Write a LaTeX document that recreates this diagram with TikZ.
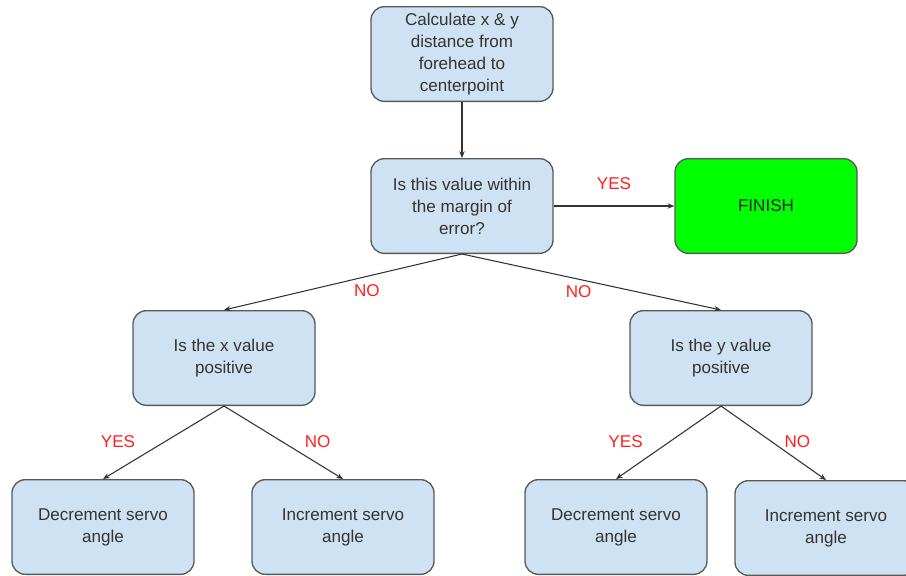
\documentclass[tikz,border=0pt]{standalone}
\usepackage{fontspec}
\setmainfont{Liberation Sans}
\usetikzlibrary{arrows.meta}
\definecolor{boxblue}{HTML}{CFE2F3}
\definecolor{boxedge}{HTML}{595959}
\definecolor{txtgray}{HTML}{333333}
\definecolor{finishgreen}{HTML}{00FF00}
\definecolor{lblred}{HTML}{FF2020}

\tikzset{
  flowbox/.style={draw=boxedge, fill=boxblue, line width=1pt, rounded corners=10pt,
    minimum width=136.5pt, minimum height=71pt, align=center, text=txtgray,
    font=\fontsize{12.8}{16.5}\selectfont},
  donebox/.style={flowbox, fill=finishgreen, text=black!85},
  link/.style={-{Stealth[length=5pt, width=4pt]}, draw=txtgray, line width=0.8pt},
  lbl/.style={text=lblred, font=\fontsize{12.8}{15}\selectfont, inner sep=1pt}
}

\begin{document}
\begin{tikzpicture}[x=0.75pt, y=-0.75pt]

% Page frame
\useasboundingbox (0,0) rectangle (906,575);
\fill[white] (0,0) rectangle (906,575);
\clip (0,0) rectangle (906,575);

% Boxes
\node[flowbox] (calc) at (462,54) {Calculate x \& y\\distance from\\forehead to\\centerpoint};
\node[flowbox] (check) at (462,206) {Is this value within\\the margin of\\error?};
\node[donebox] (finish) at (766,206) {FINISH};
\node[flowbox] (xpos) at (224,358) {Is the x value\\positive};
\node[flowbox] (ypos) at (721,358) {Is the y value\\positive};
\node[flowbox] (xdec) at (103,527) {Decrement servo\\angle};
\node[flowbox] (xinc) at (343,527) {Increment servo\\angle};
\node[flowbox] (ydec) at (616,527) {Decrement servo\\angle};
\node[flowbox] (yinc) at (826,528) {Increment servo\\angle};

% Arrows
\draw[link] (calc) -- (check);
\draw[link] (check) -- (finish) node[lbl, midway, yshift=17pt] {YES};
\draw[link] (check.south) -- (xpos.north) node[lbl, pos=.4, yshift=-11pt] {NO};
\draw[link] (check.south) -- (ypos.north) node[lbl, pos=.45, yshift=-9pt] {NO};
\draw[link] (xpos.south) -- (xdec.north) node[lbl, pos=.49, xshift=-35pt] {YES};
\draw[link] (xpos.south) -- (xinc.north) node[lbl, pos=.49, xshift=26.5pt] {NO};
\draw[link] (ypos.south) -- (ydec.north) node[lbl, pos=.49, xshift=-33pt] {YES};
\draw[link] (ypos.south) -- (yinc.north) node[lbl, pos=.48, xshift=19.5pt] {NO};

\end{tikzpicture}
\end{document}
